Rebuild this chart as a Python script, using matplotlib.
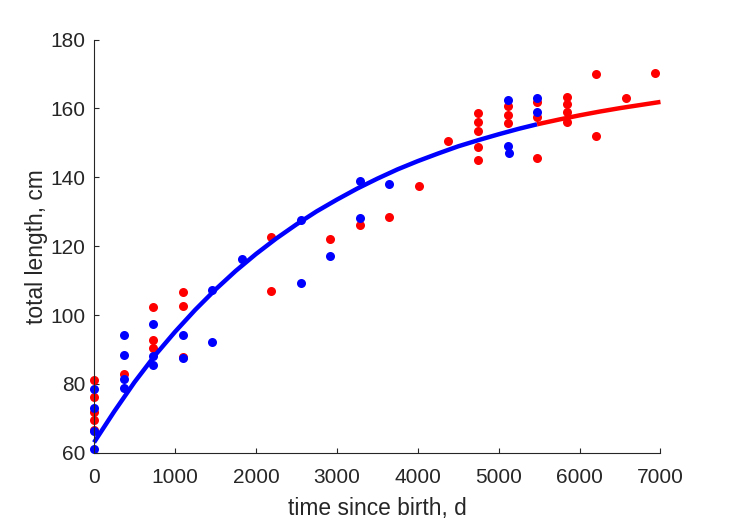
import matplotlib
matplotlib.use("Agg")
import matplotlib.pyplot as plt

# Red observations (time since birth in days, total length in cm)
red_t = [0, 0, 0, 0, 0, 365, 730, 730, 730, 1095, 1095, 1095, 2190, 2190,
         2920, 3285, 3650, 4015, 4380, 4745, 4745, 4745, 4745, 4745,
         5110, 5110, 5110, 5475, 5475, 5475, 5840, 5840, 5840, 5840,
         6205, 6205, 6570, 6935]
red_L = [81.2, 76.1, 71.8, 69.4, 66.5, 83.0, 102.4, 92.8, 90.3, 106.6, 102.7, 87.9,
         122.8, 106.9, 122.0, 126.1, 128.4, 137.5, 150.6, 158.6, 156.0, 153.4, 148.9,
         145.1, 160.7, 158.2, 155.7, 161.8, 157.5, 145.7, 163.3, 161.2, 158.9, 156.2,
         170.1, 152.1, 162.9, 170.4]

# Blue observations
blue_t = [0, 0, 0, 0, 365, 365, 365, 365, 730, 730, 730, 1095, 1095, 1460, 1460,
          1825, 2555, 2555, 2920, 3285, 3285, 3650, 5110, 5110, 5130, 5475, 5475]
blue_L = [78.6, 73.1, 66.2, 61.2, 94.1, 88.4, 81.4, 78.9, 97.3, 88.0, 85.5, 94.1, 87.4,
          107.3, 92.1, 116.4, 109.4, 127.5, 117.2, 138.8, 128.1, 138.2, 162.6, 149.1,
          147.0, 162.9, 159.1]

# Fitted growth curve
curve_blue_t = [0, 250, 500, 750, 1000, 1250, 1500, 1750, 2000, 2250, 2500, 2750, 3000,
                3250, 3500, 3750, 4000, 4250, 4500, 4750, 5000, 5250, 5475]
curve_blue_L = [63.0, 72.0, 80.5, 88.2, 95.1, 101.5, 107.4, 112.8, 117.7, 122.2, 126.3,
                130.1, 133.5, 136.7, 139.6, 142.3, 144.7, 146.9, 149.0, 150.8, 152.5,
                154.1, 155.4]
curve_red_t = [5475, 5750, 6000, 6250, 6500, 6750, 7000]
curve_red_L = [155.4, 156.8, 158.0, 159.1, 160.1, 161.0, 161.9]

x_ticks = [0, 1000, 2000, 3000, 4000, 5000, 6000, 7000]
y_ticks = [60, 80, 100, 120, 140, 160, 180]

plt.rcParams['font.family'] = ['Liberation Sans', 'DejaVu Sans']
dark = (0.15, 0.15, 0.15)

fig = plt.figure(figsize=(7.29, 5.21), dpi=100)
ax = fig.add_axes([0.129, 0.131, 0.777, 0.793])

ax.plot(red_t, red_L, 'o', color=(1, 0, 0), markersize=6.5, markeredgewidth=0)
ax.plot(blue_t, blue_L, 'o', color=(0, 0, 1), markersize=6.5, markeredgewidth=0)
ax.plot(curve_blue_t, curve_blue_L, '-', color=(0, 0, 1), linewidth=3.2,
        solid_capstyle='butt')
ax.plot(curve_red_t, curve_red_L, '-', color=(1, 0, 0), linewidth=3.2,
        solid_capstyle='butt')

ax.set_xlim(0, 7000)
ax.set_ylim(60, 180)
ax.set_xticks(x_ticks)
ax.set_yticks(y_ticks)
ax.spines['top'].set_visible(False)
ax.spines['right'].set_visible(False)
for s in ('left', 'bottom'):
    ax.spines[s].set_color(dark)
    ax.spines[s].set_linewidth(0.8)
ax.tick_params(direction='in', length=3.5, width=0.8, color=dark,
               labelcolor=dark, labelsize=15)
ax.tick_params(axis='x', pad=11)
ax.tick_params(axis='y', pad=6)
ax.set_xlabel('time since birth, d', fontsize=16.4, color=dark, labelpad=7)
ax.set_ylabel('total length, cm', fontsize=16.4, color=dark, labelpad=2)

for line in ax.lines:
    line.set_clip_on(False)

fig.savefig('out.png', dpi=100)
